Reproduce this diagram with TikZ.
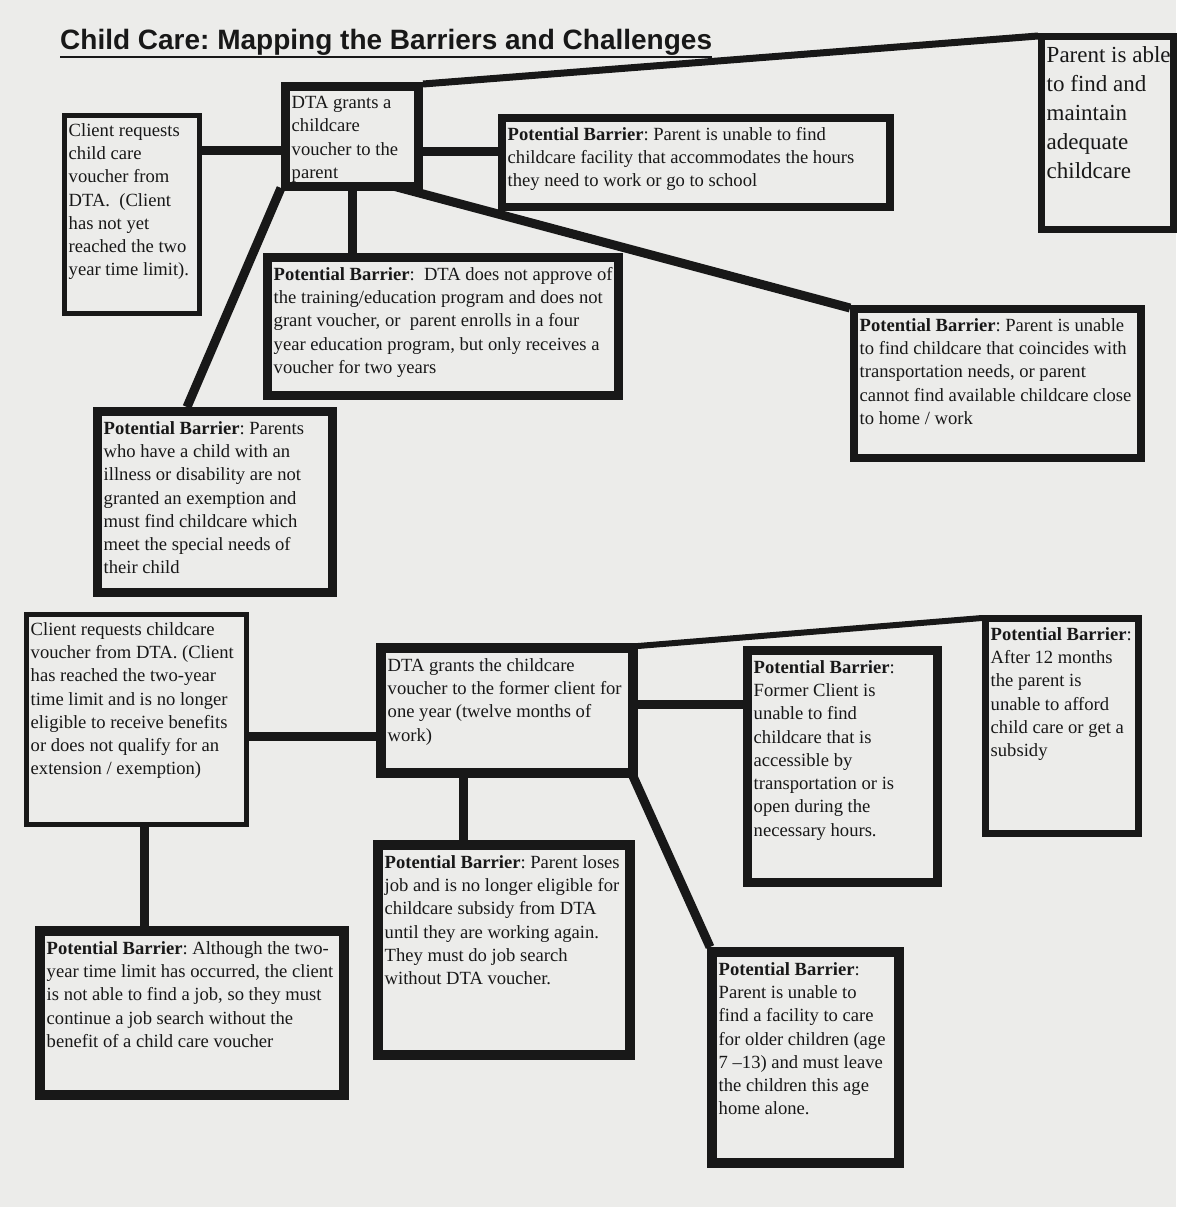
\documentclass[tikz,border=0pt]{standalone}
\usepackage{tikz}
\usepackage{fontspec}
\setmainfont{Liberation Serif}
\newfontfamily\titlefont{Liberation Sans}
\frenchspacing

\definecolor{paper}{RGB}{236,236,234}
\definecolor{ink}{RGB}{24,24,24}
\newcommand{\bodyfont}{\fontsize{18.6}{23.3}\selectfont}
\newcommand{\bigfont}{\fontsize{23}{29}\selectfont}

\tikzset{
  mapbox/.style={draw=ink, line width=#1, anchor=north west, inner sep=0pt},
  boxtext/.style={anchor=north west, align=left, inner xsep=#1+1.5pt, inner ysep=#1+5pt, font=\bodyfont, text=ink},
  link/.style={draw=ink, line width=9pt},
}

\begin{document}
\begin{tikzpicture}[x=1pt,y=-1pt]

    \useasboundingbox (0,0) rectangle (1176,1207);
    \fill[paper] (0,0) rectangle (1176,1207);

    \node[anchor=base west, inner sep=0pt, font=\titlefont\bfseries\fontsize{28}{32}\selectfont, text=ink] (title) at (60,50) {Child Care: Mapping the Barriers and Challenges};
    \draw[ink, line width=2pt] ([yshift=-1pt]title.south west) -- ([yshift=-1pt]title.south east);


    \node[mapbox=5pt, minimum width=135pt, minimum height=198pt] (c1) at (62,113) {};
    \node[boxtext=5pt] (c1t) at (c1.north west) {Client requests\\child care\\voucher from\\DTA.\ \ (Client\\has not yet\\reached the two\\year time limit).};

    \node[mapbox=9pt, minimum width=133pt, minimum height=100pt] (d1) at (281,82) {};
    \node[boxtext=9pt] (d1t) at (d1.north west) {DTA grants a\\childcare\\voucher to the\\parent};

    \node[mapbox=8pt, minimum width=388pt, minimum height=89pt] (b1) at (498,114) {};
    \node[boxtext=8pt] (b1t) at (b1.north west) {\textbf{Potential Barrier}: Parent is unable to find\\childcare facility that accommodates the hours\\they need to work or go to school};

    \node[mapbox=7pt, minimum width=132pt, minimum height=193pt] (g1) at (1038,33) {};
    \node[boxtext=7pt, inner ysep=13pt, font=\bigfont] (g1t) at (g1.north west) {Parent is able\\to find and\\maintain\\adequate\\childcare};

    \node[mapbox=9pt, minimum width=351pt, minimum height=138pt] (b2) at (263,253) {};
    \node[boxtext=9pt] (b2t) at (b2.north west) {\textbf{Potential Barrier}:\ \ DTA does not approve of\\the training/education program and does not\\grant voucher, or\ \ parent enrolls in a four\\year education program, but only receives a\\voucher for two years};

    \node[mapbox=8pt, minimum width=287pt, minimum height=149pt] (b3) at (850,305) {};
    \node[boxtext=8pt] (b3t) at (b3.north west) {\textbf{Potential Barrier}: Parent is unable\\to find childcare that coincides with\\transportation needs, or parent\\cannot find available childcare close\\to home / work};

    \node[mapbox=9pt, minimum width=235pt, minimum height=181pt] (b4) at (93,407) {};
    \node[boxtext=9pt] (b4t) at (b4.north west) {\textbf{Potential Barrier}: Parents\\who have a child with an\\illness or disability are not\\granted an exemption and\\must find childcare which\\meet the special needs of\\their child};

    \draw[link] ([yshift=-13.5pt]d1.west) -- ([yshift=-13.5pt]d1.west -| c1.east);
    \draw[link] ([yshift=-14.5pt]d1.east) -- ([yshift=-14.5pt]d1.east -| b1.west);
    \draw[link, line width=7pt] ([yshift=-2pt]d1.north east) -- ([yshift=-3pt]g1.north west);
    \draw[link] (d1.south) -- (d1.south |- b2.north);
    \draw[link] ([xshift=-28pt,yshift=4.5pt]d1.south east) -- ([yshift=-3pt]b3.north west);
    \draw[link] ([yshift=3pt]d1.south west) -- ([xshift=-28pt]b4.north);


    \node[mapbox=5pt, minimum width=220pt, minimum height=210pt] (c2) at (24,612) {};
    \node[boxtext=5pt] (c2t) at (c2.north west) {Client requests childcare\\voucher from DTA. (Client\\has reached the two-year\\time limit and is no longer\\eligible to receive benefits\\or does not qualify for an\\extension / exemption)};

    \node[mapbox=10pt, minimum width=252pt, minimum height=125pt] (d2) at (376,643) {};
    \node[boxtext=10pt] (d2t) at (d2.north west) {DTA grants the childcare\\voucher to the former client for\\one year (twelve months of\\work)};

    \node[mapbox=9pt, minimum width=190pt, minimum height=232pt] (b5) at (743,646) {};
    \node[boxtext=9pt] (b5t) at (b5.north west) {\textbf{Potential Barrier}:\\Former Client is\\unable to find\\childcare that is\\accessible by\\transportation or is\\open during the\\necessary hours.};

    \node[mapbox=7pt, minimum width=153pt, minimum height=215pt] (b6) at (982,615) {};
    \node[boxtext=7pt] (b6t) at (b6.north west) {\textbf{Potential Barrier}:\\After 12 months\\the parent is\\unable to afford\\child care or get a\\subsidy};

    \node[mapbox=10pt, minimum width=252pt, minimum height=210pt] (b7) at (373,840) {};
    \node[boxtext=10pt] (b7t) at (b7.north west) {\textbf{Potential Barrier}: Parent loses\\job and is no longer eligible for\\childcare subsidy from DTA\\until they are working again.\\They must do job search\\without DTA voucher.};

    \node[mapbox=10pt, minimum width=187pt, minimum height=211pt] (b8) at (707,947) {};
    \node[boxtext=10pt] (b8t) at (b8.north west) {\textbf{Potential Barrier}:\\Parent is unable to\\find a facility to care\\for older children (age\\7 –13) and must leave\\the children this age\\home alone.};

    \node[mapbox=10pt, minimum width=304pt, minimum height=164pt] (b9) at (35,926) {};
    \node[boxtext=10pt] (b9t) at (b9.north west) {\textbf{Potential Barrier}: Although the two-\\year time limit has occurred, the client\\is not able to find a job, so they must\\continue a job search without the\\benefit of a child care voucher};

    \draw[link] ([yshift=-25.5pt]d2.west) -- ([yshift=-25.5pt]d2.west -| c2.east);
    \draw[link] ([yshift=6.5pt]d2.east) -- ([yshift=6.5pt]d2.east -| b5.west);
    \draw[link, line width=6pt] ([yshift=-3pt]d2.north east) -- ([yshift=-3pt]b6.north west);
    \draw[link] ([xshift=-44pt]d2.south) -- ([xshift=-44pt]d2.south |- b7.north);
    \draw[link] ([xshift=-6pt,yshift=4pt]d2.south east) -- ([xshift=3pt]b8.north west);
    \draw[link] ([xshift=7.5pt]c2.south) -- ([xshift=7.5pt]c2.south |- b9.north);

\end{tikzpicture}
\end{document}
